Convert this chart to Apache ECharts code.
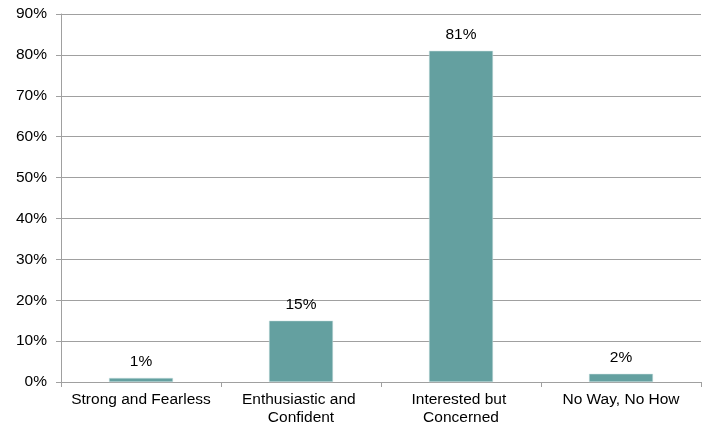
<!DOCTYPE html>
<html>
<head>
<meta charset="utf-8">
<script src="https://cdn.jsdelivr.net/npm/echarts@6/dist/echarts.min.js"></script>
<style>
  html, body { margin: 0; padding: 0; background: #fff; }
  #chart { width: 709px; height: 427px; }
</style>
</head>
<body>
<div id="chart"></div>
<script>
// categories and shares (%)
var categories = ['Strong and Fearless', 'Enthusiastic and Confident', 'Interested but Concerned', 'No Way, No How'];
var shares = [1, 15, 81, 2];

var chartDom = document.getElementById('chart');
var myChart = echarts.init(chartDom);
var font = 'Liberation Sans, Arial, sans-serif';

var option = {
    animation: false,
    grid: {
        left: 61,
        right: 8,
        top: 14,
        bottom: 45
    },
    xAxis: {
        type: 'category',
        data: categories,
        axisLine: { show: true, lineStyle: { color: '#a0a0a0', width: 1 } },
        axisTick: { show: true, length: 5, lineStyle: { color: '#a0a0a0' } },
        axisLabel: {
            color: '#000',
            fontFamily: font,
            fontSize: 15.5,
            margin: 9,
            lineHeight: 18,
            width: 158,
            overflow: 'break',
            interval: 0
        }
    },
    yAxis: {
        type: 'value',
        min: 0,
        max: 90,
        interval: 10,
        axisLine: { show: true, lineStyle: { color: '#a0a0a0', width: 1 } },
        axisTick: { show: true, length: 5, lineStyle: { color: '#a0a0a0' } },
        axisLabel: {
            color: '#000',
            fontFamily: font,
            fontSize: 15.5,
            margin: 14,
            formatter: '{value}%'
        },
        splitLine: { show: true, lineStyle: { color: '#a0a0a0', width: 1 } }
    },
    series: [
        {
            type: 'bar',
            data: shares,
            barWidth: '40%',
            itemStyle: {
                color: '#64a0a0',
                borderColor: '#cfe3e3',
                borderWidth: 0.5
            },
            label: {
                show: true,
                position: 'top',
                distance: 8,
                color: '#000',
                fontFamily: font,
                fontSize: 15.5,
                formatter: function (params) {
                    return params.value + '%';
                }
            }
        }
    ]
};

option && myChart.setOption(option);
</script>
</body>
</html>
